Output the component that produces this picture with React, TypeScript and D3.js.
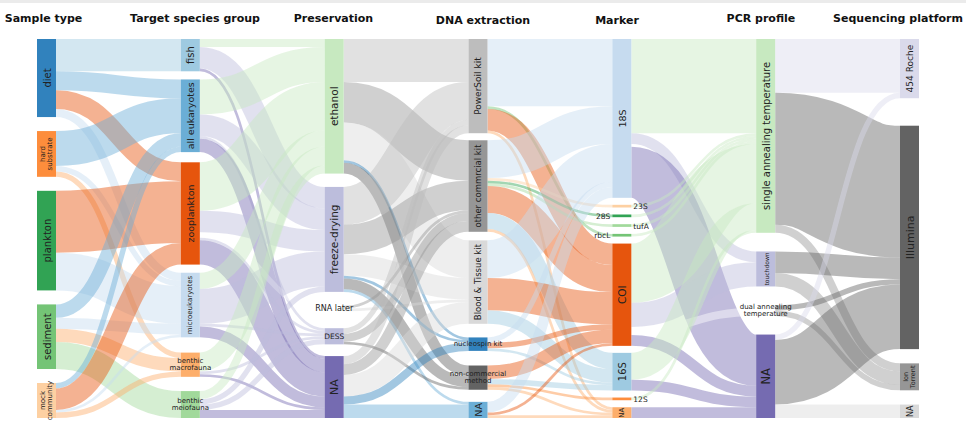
import * as d3 from 'd3';

// Dimensions (columns) and their categories, top to bottom
const dimensions = ['Sample type', 'Target species group', 'Preservation', 'DNA extraction', 'Marker', 'PCR profile', 'Sequencing platform'];

const sampleTypes = ['diet', 'hard substrate', 'plankton', 'sediment', 'mock community'];
const targetGroups = ['fish', 'all eukaryotes', 'zooplankton', 'microeukaryotes', 'benthic macrofauna', 'benthic meiofauna'];
const preservations = ['ethanol', 'freeze-drying', 'RNA later', 'DESS', 'NA'];
const extractions = ['PowerSoil kit', 'other commrcial kit', 'Blood & Tissue kit', 'nucleospin kit', 'non-commercial method', 'NA'];
const markers = ['18S', '23S', '28S', 'tufA', 'rbcL', 'COI', '16S', '12S', 'NA'];
const pcrProfiles = ['single annealing temperature', 'touchdown', 'dual annealing temperature', 'NA'];
const platforms = ['454 Roche', 'Illumina', 'Ion Torrent', 'NA'];

type Flow = [string, string, number];

// number of studies flowing between neighbouring dimensions
const sampleToTarget: Flow[] = [
    ['diet', 'fish', 12], ['diet', 'all eukaryotes', 7], ['diet', 'zooplankton', 7], ['diet', 'microeukaryotes', 3],
    ['hard substrate', 'all eukaryotes', 13], ['hard substrate', 'microeukaryotes', 2], ['hard substrate', 'benthic macrofauna', 2],
    ['plankton', 'zooplankton', 23], ['plankton', 'microeukaryotes', 14],
    ['sediment', 'all eukaryotes', 5], ['sediment', 'microeukaryotes', 4], ['sediment', 'benthic macrofauna', 5], ['sediment', 'benthic meiofauna', 10],
    ['mock community', 'all eukaryotes', 2], ['mock community', 'zooplankton', 8], ['mock community', 'microeukaryotes', 1], ['mock community', 'benthic macrofauna', 2],
];

const targetToPreservation: Flow[] = [
    ['fish', 'ethanol', 3], ['fish', 'freeze-drying', 8], ['fish', 'NA', 1],
    ['all eukaryotes', 'ethanol', 13], ['all eukaryotes', 'freeze-drying', 8], ['all eukaryotes', 'DESS', 1], ['all eukaryotes', 'NA', 5],
    ['zooplankton', 'ethanol', 18], ['zooplankton', 'freeze-drying', 8], ['zooplankton', 'RNA later', 2], ['zooplankton', 'DESS', 1], ['zooplankton', 'NA', 9],
    ['microeukaryotes', 'ethanol', 6], ['microeukaryotes', 'freeze-drying', 13], ['microeukaryotes', 'DESS', 1], ['microeukaryotes', 'NA', 4],
    ['benthic macrofauna', 'ethanol', 7], ['benthic macrofauna', 'DESS', 1], ['benthic macrofauna', 'NA', 1],
    ['benthic meiofauna', 'ethanol', 3], ['benthic meiofauna', 'freeze-drying', 2], ['benthic meiofauna', 'DESS', 2], ['benthic meiofauna', 'NA', 3],
];

const preservationToExtraction: Flow[] = [
    ['ethanol', 'PowerSoil kit', 16], ['ethanol', 'other commrcial kit', 15], ['ethanol', 'Blood & Tissue kit', 14], ['ethanol', 'nucleospin kit', 1], ['ethanol', 'non-commercial method', 4],
    ['freeze-drying', 'PowerSoil kit', 14], ['freeze-drying', 'other commrcial kit', 11], ['freeze-drying', 'Blood & Tissue kit', 8], ['freeze-drying', 'nucleospin kit', 1], ['freeze-drying', 'non-commercial method', 4], ['freeze-drying', 'NA', 1],
    ['RNA later', 'other commrcial kit', 1], ['RNA later', 'Blood & Tissue kit', 1],
    ['DESS', 'PowerSoil kit', 2], ['DESS', 'other commrcial kit', 3], ['DESS', 'non-commercial method', 1],
    ['NA', 'PowerSoil kit', 3], ['NA', 'other commrcial kit', 4], ['NA', 'Blood & Tissue kit', 8], ['NA', 'nucleospin kit', 3], ['NA', 'NA', 5],
];

const extractionToMarker: Flow[] = [
    ['PowerSoil kit', '18S', 25], ['PowerSoil kit', 'rbcL', 1], ['PowerSoil kit', 'COI', 8], ['PowerSoil kit', 'NA', 1],
    ['other commrcial kit', '18S', 14], ['other commrcial kit', '23S', 1], ['other commrcial kit', '28S', 1], ['other commrcial kit', 'tufA', 1], ['other commrcial kit', 'COI', 10], ['other commrcial kit', '16S', 6], ['other commrcial kit', 'NA', 1],
    ['Blood & Tissue kit', '18S', 14], ['Blood & Tissue kit', 'COI', 12], ['Blood & Tissue kit', '16S', 5],
    ['nucleospin kit', '18S', 2], ['nucleospin kit', 'COI', 2], ['nucleospin kit', '16S', 1],
    ['non-commercial method', 'COI', 5], ['non-commercial method', '16S', 2], ['non-commercial method', '12S', 1], ['non-commercial method', 'NA', 1],
    ['NA', '18S', 4], ['NA', 'COI', 1], ['NA', 'NA', 1],
];

const markerToPcr: Flow[] = [
    ['18S', 'single annealing temperature', 35], ['18S', 'touchdown', 4], ['18S', 'dual annealing temperature', 1], ['18S', 'NA', 19],
    ['23S', 'single annealing temperature', 1],
    ['28S', 'single annealing temperature', 1],
    ['tufA', 'single annealing temperature', 1],
    ['rbcL', 'single annealing temperature', 1],
    ['COI', 'single annealing temperature', 22], ['COI', 'touchdown', 9], ['COI', 'dual annealing temperature', 3], ['COI', 'NA', 4],
    ['16S', 'single annealing temperature', 10], ['16S', 'NA', 4],
    ['12S', 'single annealing temperature', 1],
    ['NA', 'NA', 4],
];

const pcrToPlatform: Flow[] = [
    ['single annealing temperature', '454 Roche', 20], ['single annealing temperature', 'Illumina', 49], ['single annealing temperature', 'Ion Torrent', 3],
    ['touchdown', 'Illumina', 8], ['touchdown', 'Ion Torrent', 5],
    ['dual annealing temperature', 'Illumina', 2], ['dual annealing temperature', 'Ion Torrent', 2],
    ['NA', '454 Roche', 2], ['NA', 'Illumina', 24], ['NA', 'NA', 5],
];

// node colours (d3 category20c tones), same order as the categories
const nodeColors = [
    ['#3182bd', '#fd8d3c', '#31a354', '#74c476', '#fdd0a2'],
    ['#9ecae1', '#6baed6', '#e6550d', '#c6dbef', '#fdae6b', '#a1d99b'],
    ['#c7e9c0', '#bcbddc', '#ffffff', '#bcbddc', '#756bb1'],
    ['#bdbdbd', '#969696', '#d9d9d9', '#3182bd', '#636363', '#6baed6'],
    ['#c6dbef', '#fdd0a2', '#31a354', '#a1d99b', '#74c476', '#e6550d', '#9ecae1', '#fd8d3c', '#fdae6b'],
    ['#c7e9c0', '#bcbddc', '#ffffff', '#756bb1'],
    ['#dadaeb', '#636363', '#969696', '#d9d9d9'],
];

type LabelStyle = { mode: 'v' | 'h' | 'l' | 'r', size: number, lines?: string[] };

const labelStyles: LabelStyle[][] = [
    [{ mode: 'v', size: 10 }, { mode: 'v', size: 7, lines: ['hard', 'substrate'] }, { mode: 'v', size: 10 }, { mode: 'v', size: 10 }, { mode: 'v', size: 7, lines: ['mock', 'community'] }],
    [{ mode: 'v', size: 10 }, { mode: 'v', size: 9.5 }, { mode: 'v', size: 9.5 }, { mode: 'v', size: 7 }, { mode: 'h', size: 7, lines: ['benthic', 'macrofauna'] }, { mode: 'h', size: 7, lines: ['benthic', 'meiofauna'] }],
    [{ mode: 'v', size: 10.5 }, { mode: 'v', size: 10.5 }, { mode: 'h', size: 8 }, { mode: 'h', size: 7.5 }, { mode: 'v', size: 11 }],
    [{ mode: 'v', size: 9 }, { mode: 'v', size: 8.5 }, { mode: 'v', size: 8.5 }, { mode: 'h', size: 7 }, { mode: 'h', size: 7, lines: ['non-commercial', 'method'] }, { mode: 'v', size: 9.5 }],
    [{ mode: 'v', size: 9.5 }, { mode: 'r', size: 7.5 }, { mode: 'l', size: 7.5 }, { mode: 'r', size: 7.5 }, { mode: 'l', size: 7.5 }, { mode: 'v', size: 10.5 }, { mode: 'v', size: 10 }, { mode: 'r', size: 7.5 }, { mode: 'v', size: 7 }],
    [{ mode: 'v', size: 10 }, { mode: 'v', size: 6 }, { mode: 'h', size: 7, lines: ['dual annealing', 'temperature'] }, { mode: 'v', size: 11.5 }],
    [{ mode: 'v', size: 9 }, { mode: 'v', size: 11 }, { mode: 'v', size: 6.5, lines: ['Ion', 'Torrent'] }, { mode: 'v', size: 8 }],
];

// relative gaps between nodes of each column
const gapWeights = [
    [1, 1, 1, 1],
    [8, 10, 8, 15, 14],
    [12.5, 13, 16, 11],
    [7, 8.5, 13.5, 14.5, 12],
    [1, 1, 1, 1, 1, 1, 1, 1],
    [19, 19, 19],
    [27, 14, 14],
];
const titleShift = [-3, 4.7, -0.7, 5, -4.8, -4.7, -11.5];
const titleBase = [22, 22, 22, 24, 24, 22, 22];

const FONT = '"DejaVu Sans", Verdana, sans-serif';

export default function App() {
    const width = 966, height = 424;
    const top = 39, bottom = 418, nodeWidth = 19, minPad = 7;
    const columns = [sampleTypes, targetGroups, preservations, extractions, markers, pcrProfiles, platforms];
    const flows = [sampleToTarget, targetToPreservation, preservationToExtraction, extractionToMarker, markerToPcr, pcrToPlatform];

    const values = columns.map((names, c) => names.map(n => {
        const out = c < flows.length ? d3.sum(flows[c].filter(f => f[0] === n), f => f[2]) : 0;
        const inn = c > 0 ? d3.sum(flows[c - 1].filter(f => f[1] === n), f => f[2]) : 0;
        return Math.max(out, inn);
    }));

    const H = bottom - top;
    const ky = d3.min(values, v => (H - (v.length - 1) * minPad) / d3.sum(v))!;
    const x = d3.scaleLinear().domain([0, columns.length - 1]).range([37, 900]);

    const nodes = columns.map((names, c) => {
        const heights = values[c].map(v => v * ky);
        const free = H - d3.sum(heights);
        const w = gapWeights[c];
        const wSum = d3.sum(w);
        let y = top;
        return names.map((name, i) => {
            const node = { name, c, i, x0: x(c), x1: x(c) + nodeWidth, y0: y, y1: y + heights[i], color: nodeColors[c][i] };
            y = node.y1 + (i < w.length ? free * w[i] / wSum : 0);
            return node;
        });
    });

    const link = d3.linkHorizontal<any, any>().x((d: any) => d[0]).y((d: any) => d[1]);

    const links: { d: string, w: number, color: string }[] = [];
    flows.forEach((fl, c) => {
        const src = nodes[c], tgt = nodes[c + 1];
        const items = fl.map(f => ({
            s: src.find(n => n.name === f[0])!,
            t: tgt.find(n => n.name === f[1])!,
            w: f[2] * ky,
            sy: 0, ty: 0,
        }));
        src.forEach(n => {
            let y = n.y0;
            items.filter(l => l.s === n).sort((a, b) => a.t.i - b.t.i).forEach(l => { l.sy = y + l.w / 2; y += l.w; });
        });
        tgt.forEach(n => {
            let y = n.y0;
            items.filter(l => l.t === n).sort((a, b) => a.s.i - b.s.i).forEach(l => { l.ty = y + l.w / 2; y += l.w; });
        });
        items.forEach(l => links.push({
            d: link({ source: [l.s.x1, l.sy], target: [l.t.x0, l.ty] }) as string,
            w: l.w,
            color: l.t.color,
        }));
    });

    const renderLabel = (n: any) => {
        const st = labelStyles[n.c][n.i];
        const lines = st.lines || [n.name];
        const cx = (n.x0 + n.x1) / 2, cy = (n.y0 + n.y1) / 2;
        const lh = st.size * 1.05;
        const tspans = lines.map((t, k) => (
            <tspan key={k} x={0} dy={k === 0 ? -((lines.length - 1) / 2) * lh : lh}>{t}</tspan>
        ));
        let transform = `translate(${cx},${cy})`;
        let anchor = 'middle';
        if (st.mode === 'v') transform += ' rotate(-90)';
        if (st.mode === 'r') { transform = `translate(${n.x1 + 2},${cy})`; anchor = 'start'; }
        if (st.mode === 'l') { transform = `translate(${n.x0 - 2},${cy})`; anchor = 'end'; }
        return (
            <text key={`l${n.c}-${n.i}`} transform={transform} textAnchor={anchor} dominantBaseline="central"
                fontSize={st.size} fontFamily={FONT} fill="#222">{tspans}</text>
        );
    };

    return (
        <svg width={width} height={height} style={{ position: 'absolute', left: 0, top: 0, background: '#fff' }}>
            <rect x={0} y={0} width={width} height={3} fill="#ebebeb" />
            {dimensions.map((t, c) => (
                <text key={t} x={x(c) + nodeWidth / 2 + titleShift[c]} y={titleBase[c]} textAnchor="middle"
                    fontFamily={FONT} fontWeight="bold" fontSize={11} fill="#111">{t}</text>
            ))}
            <g fill="none">
                {links.map((l, k) => (
                    <path key={k} d={l.d} stroke={l.color} strokeWidth={Math.max(1, l.w)} strokeOpacity={0.45} />
                ))}
            </g>
            <g>
                {nodes.flat().map(n => (
                    <rect key={`n${n.c}-${n.i}`} x={n.x0} y={n.y0} width={n.x1 - n.x0} height={n.y1 - n.y0} fill={n.color} />
                ))}
            </g>
            <g>{nodes.flat().map(renderLabel)}</g>
        </svg>
    );
}
